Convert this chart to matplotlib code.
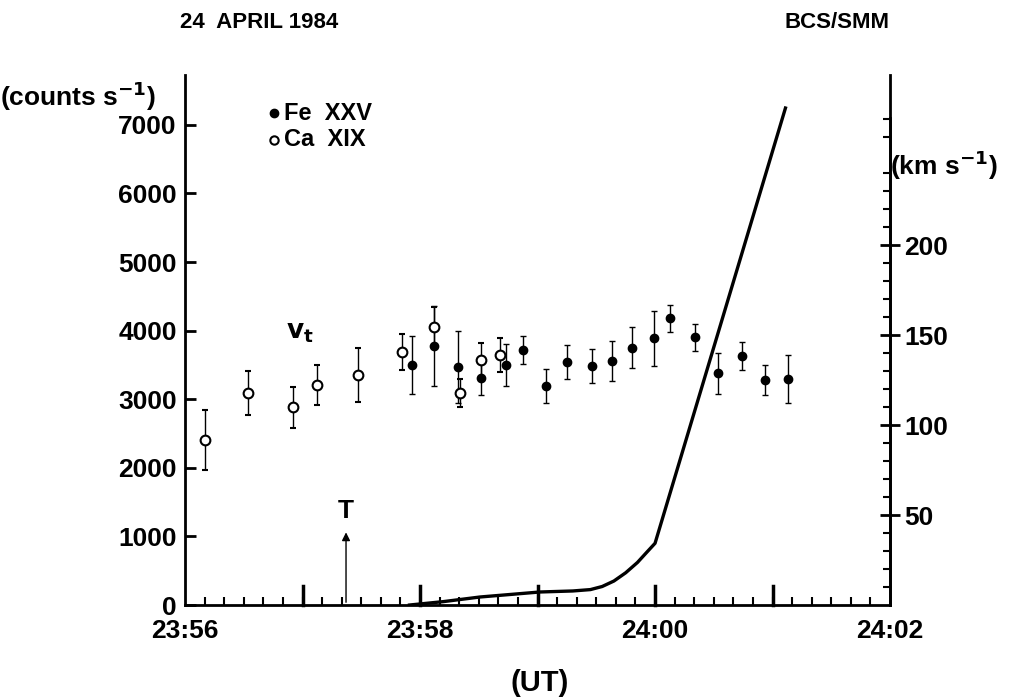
import matplotlib
matplotlib.use("Agg")
import matplotlib.pyplot as plt
from matplotlib.ticker import MultipleLocator, FixedLocator

plt.rcParams['font.family'] = ['Liberation Sans', 'DejaVu Sans']
plt.rcParams['font.weight'] = 'bold'
plt.rcParams['mathtext.default'] = 'bf'

# minutes after 23:56
ca_t = [0.17, 0.54, 0.92, 1.12, 1.47, 1.85, 2.12, 2.34, 2.52, 2.68]
ca_v = [2405, 3090, 2885, 3207, 3353, 3690, 4050, 3090, 3570, 3640]
ca_e = [440, 320, 300, 290, 400, 260, 300, 200, 250, 250]
fe_t = [1.93, 2.12, 2.32, 2.52, 2.73, 2.88, 3.07, 3.25, 3.46, 3.63, 3.80, 3.99, 4.13, 4.34, 4.54, 4.74, 4.94, 5.13]
fe_v = [3500, 3775, 3470, 3310, 3500, 3715, 3190, 3540, 3480, 3560, 3750, 3890, 4180, 3900, 3380, 3630, 3280, 3290]
fe_e = [420, 580, 520, 250, 300, 200, 250, 250, 250, 290, 300, 400, 200, 200, 300, 200, 220, 350]
lc_t = [1.91, 2.2, 2.51, 3.02, 3.3, 3.45, 3.55, 3.65, 3.75, 3.85, 3.93, 4.0, 5.11]
lc_c = [0, 50, 117, 190, 205, 225, 270, 350, 470, 620, 770, 900, 7245]
xticks = [0, 2, 4, 6]
xlabels = ['23:56', '23:58', '24:00', '24:02']

FS = 19
fig = plt.figure(figsize=(10.09, 6.98), dpi=100)
ax = fig.add_axes([0.1834, 0.1332, 0.6987, 0.7593])
ymax = 7726
ax.set_xlim(0, 6)
ax.set_ylim(0, ymax)
ax.spines['top'].set_visible(False)
for s in ax.spines.values():
    s.set_linewidth(2)

ax.plot(lc_t, lc_c, color='black', lw=2.4)
ax.errorbar(fe_t, fe_v, yerr=fe_e, fmt='o', ms=6, color='black', mfc='black',
            ecolor='black', elinewidth=1, capsize=2.5)
ax.errorbar(ca_t, ca_v, yerr=ca_e, fmt='o', ms=7, color='black', mfc='white',
            mew=1.5, ecolor='black', elinewidth=1, capsize=2.5)

ax.set_xticks(xticks)
ax.set_xticklabels(xlabels, fontsize=FS, fontweight='bold')
ax.xaxis.set_minor_locator(MultipleLocator(1/6))
ax.tick_params(axis='x', which='major', direction='in', length=0, pad=10)
ax.tick_params(axis='x', which='minor', direction='in', length=6, width=1.5)
for m in [1, 2, 3, 4, 5]:
    ax.plot([m, m], [0, 280], color='black', lw=2.5, clip_on=False)
ax.set_yticks(range(0, 8000, 1000))
ax.set_yticklabels([str(v) for v in range(0, 8000, 1000)], fontsize=FS, fontweight='bold')
ax.tick_params(axis='y', which='major', direction='in', length=8, width=2, pad=6)

ax2 = ax.twinx()
ax2.set_ylim(0, ymax / 26.24)
ax2.spines['top'].set_visible(False)
ax2.spines['left'].set_visible(False)
ax2.spines['bottom'].set_visible(False)
ax2.spines['right'].set_linewidth(2)
ax2.spines['right'].set_bounds(0, 7100 / 26.24)
ax2.yaxis.set_major_locator(FixedLocator([50, 100, 150, 200]))
ax2.yaxis.set_minor_locator(FixedLocator([v for v in range(10, 271, 10) if v % 50]))
ax2.tick_params(axis='y', which='major', direction='inout', length=14, width=2, labelsize=FS)
ax2.tick_params(axis='y', which='minor', direction='in', length=5, width=1.5)
for l in ax2.get_yticklabels():
    l.set_fontweight('bold')

ax.annotate('', xy=(1.37, 1100), xytext=(1.37, 0),
            arrowprops=dict(arrowstyle='-|>', color='black', lw=1, mutation_scale=12))
ax.text(1.37, 1200, 'T', ha='center', va='bottom', fontsize=FS, fontweight='bold')
ax.text(0.86, 3880, r'$\mathbf{v_t}$', fontsize=FS)
ax.plot([0.76], [7170], 'o', color='black', ms=6)
ax.text(0.84, 7170, 'Fe  XXV', va='center', fontsize=17, fontweight='bold')
ax.plot([0.76], [6780], 'o', color='black', mfc='white', mew=1.5, ms=6)
ax.text(0.84, 6780, 'Ca  XIX', va='center', fontsize=17, fontweight='bold')

fig.text(180/1009, 1-22/698, '24  APRIL 1984', fontsize=16, fontweight='bold', va='center')
fig.text(890/1009, 1-22/698, 'BCS/SMM', fontsize=16, fontweight='bold', va='center', ha='right')
fig.text(0/1009, 1-96/698, r'(counts s$^{-1}$)', fontsize=FS, fontweight='bold', va='center')
fig.text(890/1009, 1-165/698, r'(km s$^{-1}$)', fontsize=FS, fontweight='bold', va='center')
fig.text(540/1009, 1-683/698, '(UT)', fontsize=21, fontweight='bold', va='center', ha='center')

fig.savefig('out.png', dpi=100)
